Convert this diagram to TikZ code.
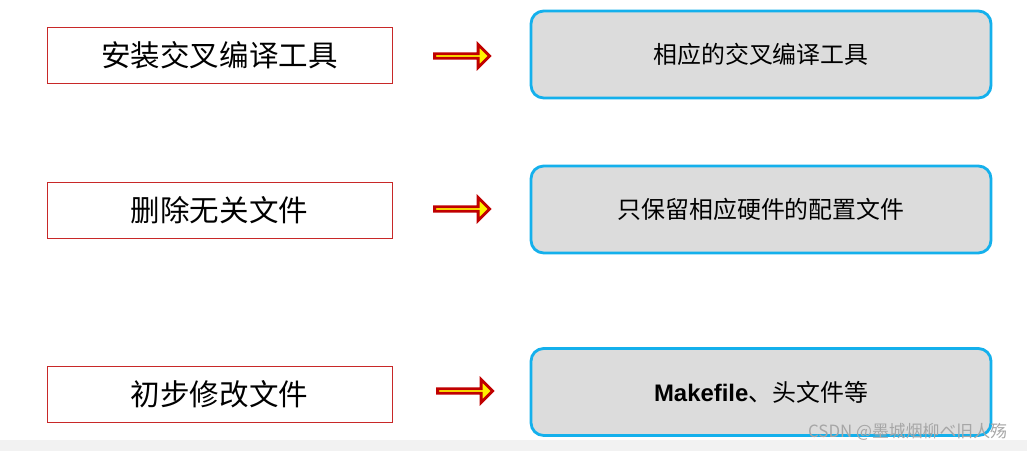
\documentclass[tikz,border=0pt]{standalone}
\usepackage{fontspec}
\setmainfont{Noto Sans CJK SC}
\setsansfont{Liberation Sans}
\usetikzlibrary{shapes.arrows}
\definecolor{boxblue}{RGB}{20,176,236}
\definecolor{boxgray}{RGB}{220,220,220}
\definecolor{linered}{RGB}{200,40,40}
\definecolor{arrred}{RGB}{192,0,0}
\begin{document}
\begin{tikzpicture}[x=0.025cm,y=-0.025cm]
\tikzstyle{stepbox}=[draw=linered,line width=0.6pt,minimum width=345*0.025cm,minimum height=56*0.025cm,font=\fontsize{21}{24}\selectfont]
\tikzstyle{result}=[draw=boxblue,fill=boxgray,line width=2pt,rounded corners=9pt,minimum width=460*0.025cm,minimum height=87*0.025cm,font=\fontsize{17}{20}\selectfont]
\tikzstyle{goes}=[single arrow,draw=arrred,fill=yellow,line width=2pt,minimum height=55*0.025cm,minimum width=23*0.025cm,single arrow head extend=4pt,inner sep=0pt]
\useasboundingbox (0,0) rectangle (1027,451);
\fill[gray!10] (0,440) rectangle (1027,451);
\path (219.5,55.5) node[stepbox](s1){安装交叉编译工具}
      (219.5,210) node[stepbox](s2){删除无关文件}
      (219.5,394) node[stepbox](s3){初步修改文件};
\path (761,54.5) node[result](r1){相应的交叉编译工具}
      (761,209.5) node[result](r2){只保留相应硬件的配置文件}
      (761,392) node[result](r3){\textbf{\sffamily Makefile}、头文件等};
\path (461,56) node[goes](a1){}
      (461,209) node[goes](a2){}
      (464,391) node[goes](a3){};
\node[anchor=east,text=gray!70,font=\fontsize{12}{14}\selectfont] (wm) at (1012,432) {CSDN @墨城烟柳ベ旧人殇};
\end{tikzpicture}
\end{document}
